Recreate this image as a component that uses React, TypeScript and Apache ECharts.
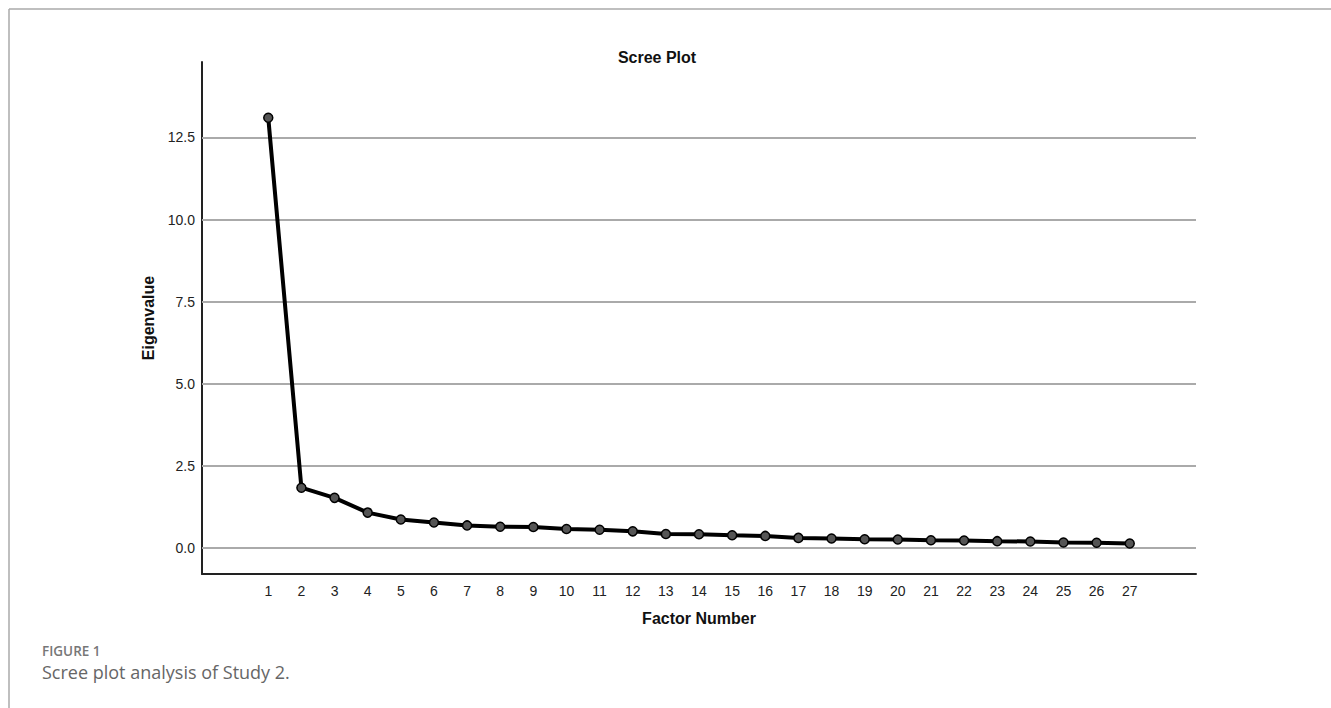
import React, { useEffect, useRef } from "react";
import * as echarts from "echarts";

const factors = Array.from({ length: 27 }, (_, i) => i + 1);
const eigenvalues = [
  13.1, 1.83, 1.52, 1.07, 0.86, 0.77, 0.68, 0.64, 0.63, 0.57, 0.55, 0.5, 0.42,
  0.41, 0.38, 0.36, 0.3, 0.28, 0.26, 0.25, 0.23, 0.22, 0.2, 0.19, 0.16, 0.15, 0.13,
];
const yTicks = [0, 2.5, 5, 7.5, 10, 12.5];

export default function App() {
  const ref = useRef<HTMLDivElement>(null);
  useEffect(() => {
    if (!ref.current) return;
    const chart = echarts.init(ref.current, null, { renderer: "svg" });
    const font = "Arial, 'Liberation Sans', sans-serif";
    chart.setOption({
      animation: false,
      backgroundColor: "#fff",
      title: {
        text: "Scree Plot",
        left: 652,
        top: 44,
        textAlign: "center",
        textStyle: { fontFamily: font, fontWeight: "bold", fontSize: 16, color: "#111" },
      },
      grid: { left: 202, right: 135, top: 62, bottom: 134, containLabel: false },
      xAxis: {
        type: "value",
        min: -1,
        max: 29,
        interval: 1,
        name: "Factor Number",
        nameLocation: "middle",
        nameGap: 36,
        nameTextStyle: { fontFamily: font, fontWeight: "bold", fontSize: 16, color: "#111" },
        axisLine: { show: true, onZero: false, lineStyle: { color: "#222", width: 2 } },
        axisTick: { show: false },
        splitLine: { show: false },
        axisLabel: {
          margin: 10,
          fontFamily: font,
          fontSize: 14,
          color: "#222",
          formatter: (v: number) => (factors.includes(v) ? String(v) : ""),
        },
      },
      yAxis: {
        type: "value",
        min: -0.8,
        max: 14.8,
        name: "Eigenvalue",
        nameLocation: "middle",
        nameGap: 35,
        nameTextStyle: { fontFamily: font, fontWeight: "bold", fontSize: 16, color: "#111" },
        axisLine: { show: true, onZero: false, lineStyle: { color: "#222", width: 2 } },
        axisTick: { show: false },
        splitLine: { show: false },
        axisLabel: {
          customValues: yTicks,
          margin: 7,
          fontFamily: font,
          fontSize: 14,
          color: "#222",
          formatter: (v: number) => v.toFixed(1),
        },
      },
      series: [
        {
          type: "line",
          data: factors.map((f, i) => [f, eigenvalues[i]]),
          symbol: "circle",
          symbolSize: 9,
          lineStyle: { color: "#000", width: 4 },
          itemStyle: { color: "#555", borderColor: "#000", borderWidth: 1.5 },
          z: 5,
          markLine: {
            silent: true,
            symbol: "none",
            label: { show: false },
            lineStyle: { color: "#aaa", width: 2, type: "solid" },
            data: yTicks.map((t) => ({ yAxis: t })),
            z: 1,
          },
        },
      ],
      graphic: [
        { type: "line", shape: { x1: 9, y1: 9, x2: 1331, y2: 9 }, style: { stroke: "#aaa", lineWidth: 1.5 } },
        { type: "line", shape: { x1: 9, y1: 9, x2: 9, y2: 708 }, style: { stroke: "#aaa", lineWidth: 1.5 } },
        {
          type: "text",
          left: 42,
          top: 644,
          style: { text: "FIGURE 1", fontFamily: "'Open Sans', sans-serif", fontSize: 13.5, fontWeight: 600, fill: "#777" },
        },
        {
          type: "text",
          left: 42,
          top: 663,
          style: { text: "Scree plot analysis of Study 2.", fontFamily: "'Open Sans', sans-serif", fontSize: 18, fill: "#666" },
        },
      ],
    });
    return () => chart.dispose();
  }, []);
  return (
    <div
      ref={ref}
      style={{ position: "fixed", left: 0, top: 0, width: 1331, height: 708, background: "#fff" }}
    />
  );
}
